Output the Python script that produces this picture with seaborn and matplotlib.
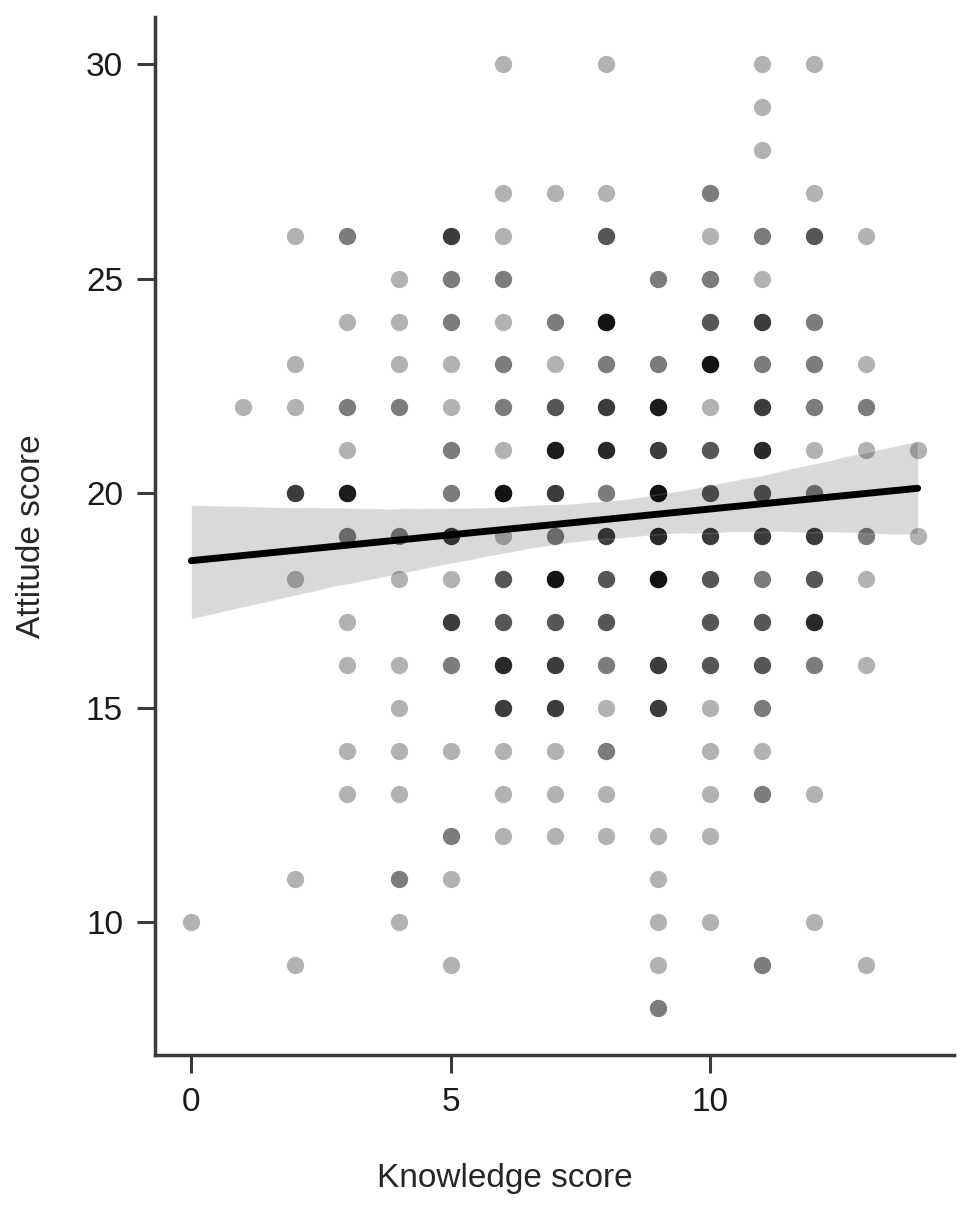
import numpy as np
import pandas as pd
import seaborn as sns
import matplotlib.pyplot as plt

# counts of respondents at each (knowledge, attitude) pair
# knowledge score -> {attitude score: number of respondents}
k0 = {10: 1}
k1 = {22: 1}
k2 = {26: 1, 23: 1, 22: 1, 20: 4, 18: 1, 11: 1, 9: 1}
k3 = {26: 2, 24: 1, 22: 2, 21: 1, 20: 6, 19: 2, 17: 1, 16: 1, 14: 1, 13: 1}
k4 = {25: 1, 24: 1, 23: 1, 22: 2, 19: 2, 18: 1, 16: 1, 15: 1, 14: 1, 13: 1, 11: 2, 10: 1}
k5 = {26: 4, 25: 2, 24: 2, 23: 1, 22: 1, 21: 2, 20: 2, 19: 4, 18: 1, 17: 4, 16: 2,
      14: 1, 12: 2, 11: 1, 9: 1}
k6 = {30: 1, 27: 1, 26: 1, 25: 2, 24: 1, 23: 2, 22: 2, 21: 1, 20: 7, 19: 1, 18: 3,
      17: 3, 16: 5, 15: 4, 14: 1, 13: 1, 12: 1}
k7 = {27: 1, 24: 2, 23: 1, 22: 3, 21: 6, 20: 4, 19: 2, 18: 7, 17: 3, 16: 4, 15: 4,
      14: 1, 13: 1, 12: 1}
k8 = {30: 1, 27: 1, 26: 3, 24: 7, 23: 2, 22: 4, 21: 5, 20: 2, 19: 4, 18: 3, 17: 3,
      16: 2, 15: 1, 14: 2, 13: 1, 12: 1}
k9 = {25: 2, 23: 2, 22: 6, 21: 4, 20: 7, 19: 5, 18: 7, 16: 4, 15: 4, 12: 1, 11: 1,
      10: 1, 9: 1, 8: 2}
k10 = {27: 2, 26: 1, 25: 2, 24: 3, 23: 7, 22: 1, 21: 3, 20: 3, 19: 4, 18: 3, 17: 3,
       16: 3, 15: 1, 14: 1, 13: 1, 12: 1, 10: 1}
k11 = {30: 1, 29: 1, 28: 1, 26: 2, 25: 1, 24: 4, 23: 2, 22: 4, 21: 5, 20: 3, 19: 4,
       18: 2, 17: 3, 16: 3, 15: 2, 14: 1, 13: 2, 9: 2}
k12 = {30: 1, 27: 1, 26: 3, 24: 2, 23: 2, 22: 2, 21: 1, 20: 2, 19: 4, 18: 3, 17: 5,
       16: 2, 13: 1, 10: 1}
k13 = {26: 1, 23: 1, 22: 2, 21: 1, 19: 2, 18: 1, 16: 1, 9: 1}
k14 = {21: 1, 19: 1}

columns = [k0, k1, k2, k3, k4, k5, k6, k7, k8, k9, k10, k11, k12, k13, k14]

rows = []
for k, col in enumerate(columns):
    for att, n in col.items():
        rows += [(k, att)] * n
df = pd.DataFrame(rows, columns=["Knowledge score", "Attitude score"])

sns.set_style("ticks")
plt.rcParams['font.family'] = ['Liberation Sans', 'DejaVu Sans']

fig = plt.figure(figsize=(9.69, 12.06), dpi=100)
ax = fig.add_axes([0.160, 0.125, 0.8245, 0.861])

sns.regplot(
    data=df, x="Knowledge score", y="Attitude score", ax=ax, ci=95,
    color="black", seed=1,
    scatter_kws={"s": 155, "alpha": 0.3, "linewidths": 0},
    line_kws={"lw": 5},
)

ax.set_xlim(-0.7, 14.7)
ax.set_ylim(6.9, 31.1)
ax.set_xticks([0, 5, 10])
ax.set_yticks([10, 15, 20, 25, 30])

sns.despine(ax=ax)
for side in ["left", "bottom"]:
    ax.spines[side].set_color("#3a3a3a")
    ax.spines[side].set_linewidth(2.5)

ax.tick_params(axis="both", length=13, width=2.2, color="#3a3a3a",
               labelsize=24, labelcolor="#1a1a1a", pad=10, direction="out",
               bottom=True, left=True)
ax.set_xlabel("Knowledge score", fontsize=24)
ax.set_ylabel("Attitude score", fontsize=24, labelpad=28)
ax.xaxis.set_label_coords(0.438, -0.104)

fig.savefig("out.png", dpi=100)
